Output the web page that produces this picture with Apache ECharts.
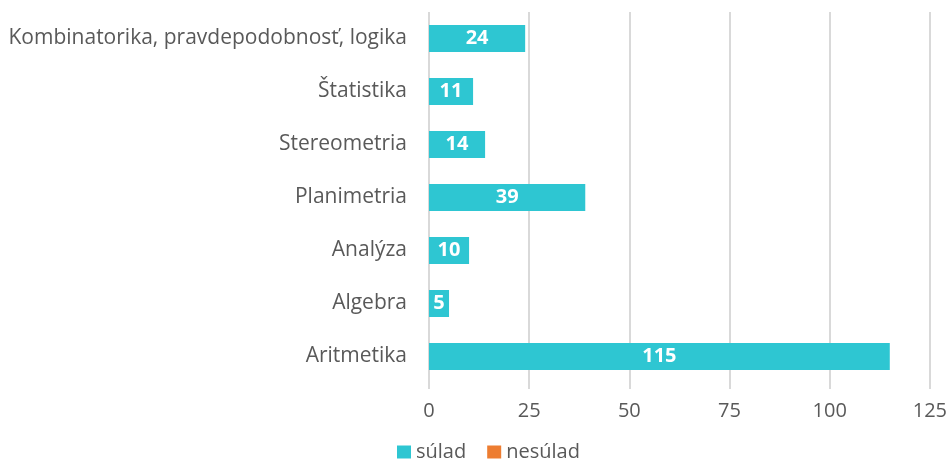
<!DOCTYPE html>
<html>
<head>
<meta charset="utf-8">
<script src="https://cdn.jsdelivr.net/npm/echarts@6/dist/echarts.min.js"></script>
<style>
  html, body { margin: 0; padding: 0; background: #fff; }
  #chart { width: 950px; height: 460px; }
</style>
</head>
<body>
<div id="chart"></div>
<script>
// kategorie zdola nahor (ako v grafe)
var categories = ['Aritmetika', 'Algebra', 'Analýza', 'Planimetria', 'Stereometria', 'Štatistika', 'Kombinatorika, pravdepodobnosť, logika'];
var sulad = [115, 5, 10, 39, 14, 11, 24];
var nesulad = [0, 0, 0, 0, 0, 0, 0];
var xTicks = [0, 25, 50, 75, 100, 125];

var myChart = echarts.init(document.getElementById('chart'));

var option = {
    animation: false,
    textStyle: { fontFamily: '"Open Sans", "Noto Sans", sans-serif' },
    grid: { left: 429, right: 19, top: 12, bottom: 77, containLabel: false },
    legend: {
        top: 437,
        left: 392,
        itemWidth: 14,
        itemHeight: 13,
        itemGap: 21,
        icon: 'rect',
        textStyle: { color: '#595959', fontSize: 20, padding: [0, 0, 0, 0] },
        data: ['súlad', 'nesúlad']
    },
    xAxis: {
        type: 'value',
        min: xTicks[0],
        max: xTicks[xTicks.length - 1],
        interval: 25,
        axisLine: { show: false },
        axisTick: { show: true, length: 6, lineStyle: { color: '#d9d9d9', width: 2 } },
        splitLine: { show: true, lineStyle: { color: '#d9d9d9', width: 2 } },
        axisLabel: { color: '#595959', fontSize: 20, margin: 18 }
    },
    yAxis: {
        type: 'category',
        data: categories,
        axisLine: { show: false },
        axisTick: { show: false },
        axisLabel: { color: '#595959', fontSize: 21, margin: 22 }
    },
    series: [
        {
            name: 'súlad',
            type: 'bar',
            stack: 'a',
            data: sulad,
            barWidth: '51%',
            itemStyle: { color: '#2ec6d2' },
            label: {
                show: true,
                position: 'inside',
                color: '#fff',
                fontWeight: 'bold',
                fontSize: 20
            }
        },
        {
            name: 'nesúlad',
            type: 'bar',
            stack: 'a',
            data: nesulad,
            itemStyle: { color: '#ed7d31' },
            label: { show: false }
        }
    ]
};

myChart.setOption(option);
</script>
</body>
</html>
